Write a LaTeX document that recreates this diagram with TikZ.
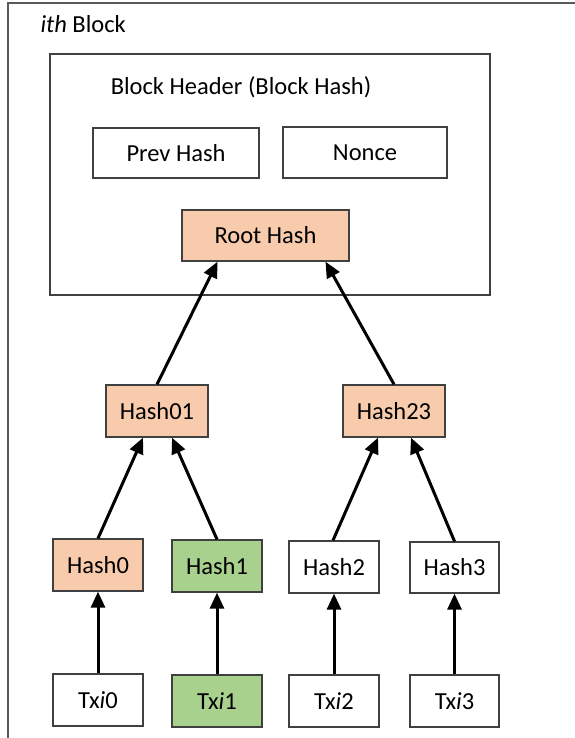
\documentclass[tikz,border=0pt]{standalone}
\usepackage{fontspec}
\setmainfont{Carlito}
\usetikzlibrary{arrows.meta}
\definecolor{orangefill}{HTML}{F8CBAD}
\definecolor{greenfill}{HTML}{A9D18E}
\definecolor{edgegray}{HTML}{404040}
\definecolor{framegray}{HTML}{5A5A5A}
\begin{document}
\begin{tikzpicture}[x=1pt,y=-1pt,
  box/.style={draw=edgegray,line width=1.3pt,inner sep=0pt,font=\fontsize{24.5}{28}\selectfont},
  orangebox/.style={box,fill=orangefill},
  greenbox/.style={box,fill=greenfill},
  whitebox/.style={box,fill=white},
  arr/.style={line width=3pt,-{Triangle[length=16pt,width=14pt]}}
]
\useasboundingbox (0,0) rectangle (574,738);
% outer frame (top and left edges visible)
\draw[framegray,line width=1.5pt] (8,745) -- (8,3) -- (580,3);
\node[anchor=west,font=\fontsize{24.5}{28}\selectfont] (title) at (37,24) {\textit{ith} Block};
% header box
\node[draw=edgegray,line width=1.3pt,minimum width=440pt,minimum height=241pt,inner sep=0pt] (header) at (270,174.5) {};
\node[font=\fontsize{24.5}{28}\selectfont] (htitle) at (241,87) {Block Header (Block Hash)};
\node[whitebox,minimum width=166pt,minimum height=50pt] (prev) at (176,153) {Prev Hash};
\node[whitebox,minimum width=164pt,minimum height=51pt] (nonce) at (365,152.5) {Nonce};
\node[orangebox,minimum width=167pt,minimum height=51pt] (root) at (265.5,235.5) {Root Hash};
% level 1
\node[orangebox,minimum width=102pt,minimum height=52pt] (h01) at (157,411) {Hash01};
\node[orangebox,minimum width=102pt,minimum height=52pt] (h23) at (394,411) {Hash23};
% level 2
\node[orangebox,minimum width=90pt,minimum height=52pt] (h0) at (98,565) {Hash0};
\node[greenbox,minimum width=90pt,minimum height=52pt] (h1) at (217,566) {Hash1};
\node[whitebox,minimum width=90pt,minimum height=52pt] (h2) at (334,567) {Hash2};
\node[whitebox,minimum width=89pt,minimum height=51pt] (h3) at (454.5,567.5) {Hash3};
% transactions
\node[whitebox,minimum width=90pt,minimum height=52pt] (t0) at (98,700) {Tx\textit{i}0};
\node[greenbox,minimum width=90pt,minimum height=52pt] (t1) at (217,701) {Tx\textit{i}1};
\node[whitebox,minimum width=90pt,minimum height=52pt] (t2) at (334,701) {Tx\textit{i}2};
\node[whitebox,minimum width=89pt,minimum height=52pt] (t3) at (454.5,701) {Tx\textit{i}3};
% arrows
\draw[arr] (t0.north) -- (h0.south);
\draw[arr] (t1.north) -- (h1.south);
\draw[arr] (t2.north) -- (h2.south);
\draw[arr] (t3.north) -- (h3.south);
\draw[arr] (h0.north) -- ([xshift=-14pt]h01.south);
\draw[arr] (h1.north) -- ([xshift=15pt]h01.south);
\draw[arr] ([xshift=-1pt]h2.north) -- ([xshift=-16pt]h23.south);
\draw[arr] (h3.north) -- ([xshift=17pt]h23.south);
\draw[arr] (h01.north) -- ([xshift=-48pt]root.south);
\draw[arr] (h23.north) -- ([xshift=60pt]root.south);
\end{tikzpicture}
\end{document}
